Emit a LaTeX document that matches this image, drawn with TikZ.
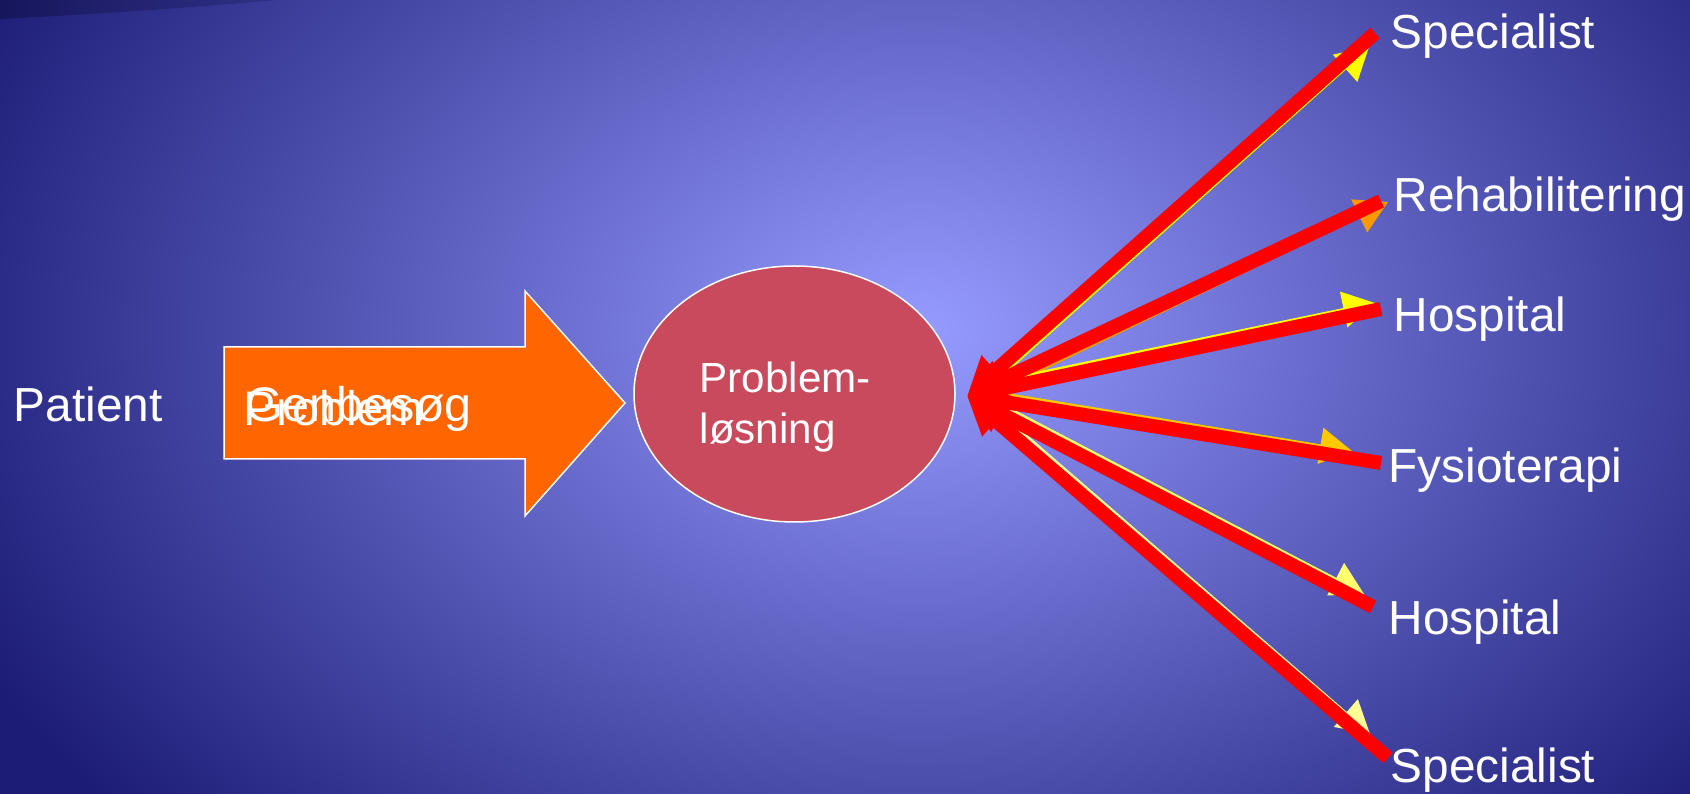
\documentclass[tikz,border=0pt]{standalone}
\usepackage{fontspec}
\setmainfont{Liberation Sans}
\usetikzlibrary{arrows.meta,shapes.geometric}

\definecolor{bgcentre}{RGB}{150,155,255}
\definecolor{bgedge}{RGB}{28,28,118}
\definecolor{bgcorner}{RGB}{22,22,92}
\definecolor{bgband}{RGB}{48,48,135}
\definecolor{arrowfill}{RGB}{255,102,0}
\definecolor{ovalfill}{RGB}{201,74,92}
\definecolor{linkred}{RGB}{255,0,0}
\definecolor{tipyellow}{RGB}{255,255,0}
\definecolor{tiporange}{RGB}{255,153,0}
\definecolor{tipgold}{RGB}{255,200,0}
\definecolor{tippale}{RGB}{255,255,110}
\definecolor{tippaler}{RGB}{255,255,150}

\tikzset{
  slidetext/.style={text=white, inner sep=0pt, anchor=base west, font=\fontsize{13.6}{16}\selectfont},
  bigtext/.style={slidetext, font=\fontsize{13.8}{16}\selectfont},
  ovaltext/.style={slidetext, font=\fontsize{12}{14}\selectfont},
  oval/.style={ellipse, fill=ovalfill, draw=white, line width=0.15mm, minimum width=32.1mm, minimum height=25.6mm, inner sep=0pt},
  outlink/.style={line width=0.3mm, -{Triangle[length=3.2mm,width=3.6mm]}},
  backlink/.style={draw=linkred, line width=1.4mm, -{Triangle[length=3.8mm,width=3.9mm]}},
}

\begin{document}
\begin{tikzpicture}[x=0.1mm, y=-0.1mm]
    \useasboundingbox (0,0) rectangle (1690,794);

    % Background
    \begin{scope}
      \clip (0,0) rectangle (1690,794);
      \fill[bgedge] (0,0) rectangle (1690,794);
      \shade[inner color=bgcentre, outer color=bgedge] (920,330) ellipse (105mm and 75mm);
      \shade[left color=bgcorner, right color=bgband] (0,0) -- (277,0) .. controls (200,7) and (100,14) .. (0,19) -- cycle;
    \end{scope}

    % Orange arrow
    \filldraw[fill=arrowfill, draw=white, line width=0.15mm] (224,347) -- (525,347) -- (525,291) -- (625,403) -- (525,516) -- (525,459) -- (224,459) -- cycle;

    % Oval
    \node[oval] (solve) at (794.5,394) {};

    % Nodes
    \node[slidetext] (patient) at (13,422) {Patient};
    \node[bigtext] (revisit) at (244.5,422) {Genbesøg};
    \node[bigtext] (problem) at (243,426) {Problem};
    \node[ovaltext] (solvetop) at (699,393) {Problem-};
    \node[ovaltext] (solvebot) at (699,444) {løsning};

    \node[slidetext] (spec1) at (1390,49) {Specialist};
    \node[slidetext] (rehab) at (1393,212) {Rehabilitering};
    \node[slidetext] (hosp1) at (1393,332) {Hospital};
    \node[slidetext] (fysio) at (1388,483) {Fysioterapi};
    \node[slidetext] (hosp2) at (1388,635) {Hospital};
    \node[slidetext] (spec2) at (1390,783) {Specialist};

    % Link ends
    \coordinate (hub) at (967,396);
    \coordinate (spec1-from) at (994,382);
    \coordinate (rehab-from) at (997,391);
    \coordinate (hosp1-from) at (995,382);
    \coordinate (fysio-from) at (998,393);
    \coordinate (hosp2-from) at (998,403);
    \coordinate (spec2-from) at (995,409);
    \coordinate (spec1-in) at (1369,47);
    \coordinate (rehab-in) at (1388,202);
    \coordinate (hosp1-in) at (1375,303);
    \coordinate (fysio-in) at (1352,451);
    \coordinate (hosp2-in) at (1364,594);
    \coordinate (spec2-in) at (1370,734);
    \coordinate (spec1-out) at (1375,33);
    \coordinate (rehab-out) at (1381,201);
    \coordinate (hosp1-out) at (1381,309);
    \coordinate (fysio-out) at (1381,463);
    \coordinate (hosp2-out) at (1373,607);
    \coordinate (spec2-out) at (1388,758);

    % Yellow arrows
    \draw[outlink, tipyellow] (spec1-from) -- (spec1-in);
    \draw[outlink, tiporange] (rehab-from) -- (rehab-in);
    \draw[outlink, tipyellow] (hosp1-from) -- (hosp1-in);
    \draw[outlink, tipgold] (fysio-from) -- (fysio-in);
    \draw[outlink, tippale] (hosp2-from) -- (hosp2-in);
    \draw[outlink, tippaler] (spec2-from) -- (spec2-in);

    % Red arrows
    \draw[backlink] (spec1-out) -- (hub);
    \draw[backlink] (rehab-out) -- (hub);
    \draw[backlink] (hosp1-out) -- (hub);
    \draw[backlink] (fysio-out) -- (hub);
    \draw[backlink] (hosp2-out) -- (hub);
    \draw[backlink] (spec2-out) -- (hub);

  \end{tikzpicture}
\end{document}
